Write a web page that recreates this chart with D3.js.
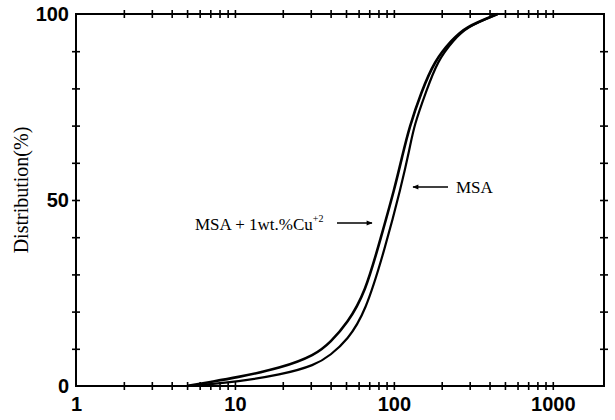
<!DOCTYPE html>
<html>
<head>
<meta charset="utf-8">
<script src="https://cdn.jsdelivr.net/npm/d3@7"></script>
<style>
  body { margin: 0; background: #fff; }
  svg { display: block; }
</style>
</head>
<body>
<script>
"use strict";

// particle size (x) vs cumulative distribution (%)
const sizeCu = [5, 7, 10, 19.5, 32, 40, 51, 66, 83, 101, 114, 125, 148, 181, 232, 280, 450];
const distCu = [0, 1.1, 2.2, 4.8, 8.3, 11.8, 16.9, 25, 40, 53, 62.5, 69.5, 78.8, 87.6, 93, 96.5, 100];

const sizeMsa = [5, 7, 10, 19.5, 32, 40, 51, 66, 88, 111, 126, 134, 159, 189, 238, 286, 450];
const distMsa = [0, 0.5, 1.1, 3, 5.6, 8.3, 12.4, 19.6, 37, 53.5, 64, 70, 79, 87.6, 93, 96.5, 100];

const xLabels = [1, 10, 100, 1000];
const yLabels = [0, 50, 100];
const yTicks = [0, 10, 20, 30, 40, 50, 60, 70, 80, 90, 100];

(function() {

let W = 615, H = 420;
let left = 76, right = 604, top = 14, bottom = 386;

let svg = d3.select('body')
    .append('svg')
    .attr('width', W)
    .attr('height', H);

let x = d3.scaleLog().domain([1, 2100]).range([left, right]);
let y = d3.scaleLinear().domain([0, 100]).range([bottom, top]);

let xTicks = x.ticks().filter(function(d) { return d > 1 && d <= 1000; });

// cross ticks on all four sides
function crossTicks(g, horizontal) {
    g.select('.domain').remove();
    g.selectAll('.tick line')
        .attr(horizontal ? 'y1' : 'x1', -4)
        .attr(horizontal ? 'y2' : 'x2', 4)
        .attr('stroke', '#000')
        .attr('stroke-width', 1.6);
}

svg.append('g')
    .attr('transform', 'translate(0,' + bottom + ')')
    .call(d3.axisBottom(x).tickValues(xTicks).tickFormat(''))
    .call(crossTicks, true);
svg.append('g')
    .attr('transform', 'translate(0,' + top + ')')
    .call(d3.axisTop(x).tickValues(xTicks).tickFormat(''))
    .call(crossTicks, true);
svg.append('g')
    .attr('transform', 'translate(' + left + ',0)')
    .call(d3.axisLeft(y).tickValues(yTicks.slice(1, -1)).tickFormat(''))
    .call(crossTicks, false);
svg.append('g')
    .attr('transform', 'translate(' + right + ',0)')
    .call(d3.axisRight(y).tickValues(yTicks.slice(1, -1)).tickFormat(''))
    .call(crossTicks, false);

// frame
svg.append('rect')
    .attr('x', left)
    .attr('y', top)
    .attr('width', right - left)
    .attr('height', bottom - top)
    .attr('fill', 'none')
    .attr('stroke', '#000')
    .attr('stroke-width', 2);

// tick labels
svg.append('g')
    .attr('transform', 'translate(0,' + (bottom + 8) + ')')
    .call(d3.axisBottom(x).tickValues(xLabels).tickSize(0).tickFormat(d3.format('d')))
    .call(function(g) {
        g.select('.domain').remove();
        g.selectAll('text')
            .attr('dy', '0.72em')
            .attr('font-family', 'Liberation Sans, Arial, sans-serif')
            .attr('font-weight', 'bold')
            .attr('font-size', 20)
            .attr('fill', '#000');
    });

svg.append('g')
    .attr('transform', 'translate(' + (left - 4) + ',0)')
    .call(d3.axisLeft(y).tickValues(yLabels).tickSize(0).tickFormat(d3.format('d')))
    .call(function(g) {
        g.select('.domain').remove();
        g.selectAll('text')
            .attr('font-family', 'Liberation Sans, Arial, sans-serif')
            .attr('font-weight', 'bold')
            .attr('font-size', 20)
            .attr('fill', '#000');
    });

svg.append('text')
    .attr('transform', 'translate(28,' + 190 + ') rotate(-90)')
    .attr('text-anchor', 'middle')
    .attr('font-family', 'Liberation Serif, Times New Roman, serif')
    .attr('font-size', 20)
    .text('Distribution(%)');

// curves
let line = d3.line()
    .x(function(d) { return x(d[0]); })
    .y(function(d) { return y(d[1]); })
    .curve(d3.curveBasis);

svg.append('path')
    .datum(d3.zip(sizeCu, distCu))
    .attr('d', line)
    .attr('fill', 'none')
    .attr('stroke', '#000')
    .attr('stroke-width', 2.6);

svg.append('path')
    .datum(d3.zip(sizeMsa, distMsa))
    .attr('d', line)
    .attr('fill', 'none')
    .attr('stroke', '#000')
    .attr('stroke-width', 2.2);

// annotations
svg.append('defs').append('marker')
    .attr('id', 'head')
    .attr('viewBox', '0 0 10 10')
    .attr('refX', 9)
    .attr('refY', 5)
    .attr('markerWidth', 7)
    .attr('markerHeight', 6)
    .attr('markerUnits', 'userSpaceOnUse')
    .attr('orient', 'auto')
    .append('path')
    .attr('d', 'M0,1 L10,5 L0,9 Z')
    .attr('fill', '#000');

let serif = 'Liberation Serif, Times New Roman, serif';

let t1 = svg.append('text')
    .attr('x', 195)
    .attr('y', 230)
    .attr('font-family', serif)
    .attr('font-size', 17);
t1.append('tspan').text('MSA + 1wt.%Cu');
t1.append('tspan')
    .attr('dy', -8)
    .attr('font-size', 10)
    .text('+2');

svg.append('line')
    .attr('x1', 337).attr('y1', 223)
    .attr('x2', 372).attr('y2', 223)
    .attr('stroke', '#000')
    .attr('stroke-width', 1.3)
    .attr('marker-end', 'url(#head)');

svg.append('text')
    .attr('x', 456)
    .attr('y', 193)
    .attr('font-family', serif)
    .attr('font-size', 17)
    .text('MSA');

svg.append('line')
    .attr('x1', 448).attr('y1', 187)
    .attr('x2', 413).attr('y2', 187)
    .attr('stroke', '#000')
    .attr('stroke-width', 1.3)
    .attr('marker-end', 'url(#head)');

})();
</script>
</body>
</html>
